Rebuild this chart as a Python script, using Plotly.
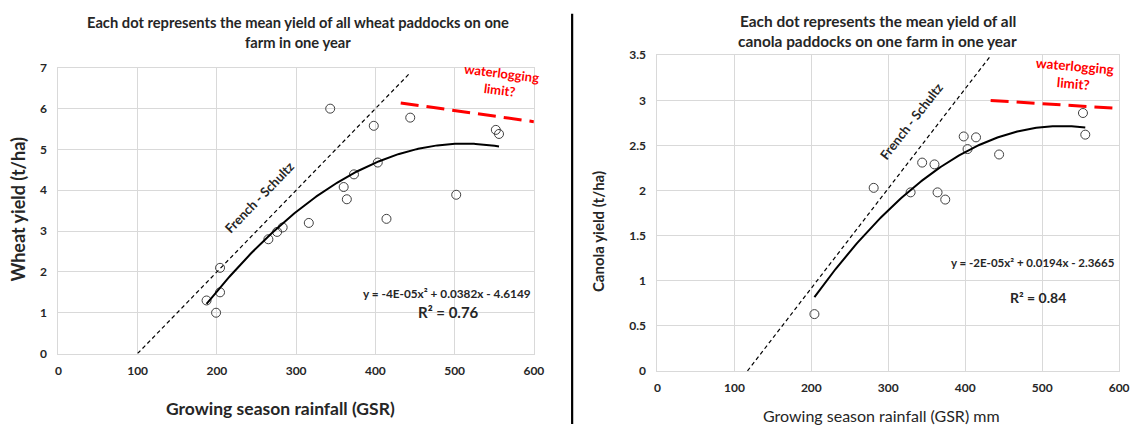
import numpy as np
import plotly.graph_objects as go

W, H = 1141, 431

# ---------------- data ----------------
wheat_gsr = [187, 199, 204, 204, 265, 276, 283, 316, 343, 360, 364, 373, 398, 403, 414, 444, 502, 552, 556]
wheat_yield = [1.30, 1.00, 2.10, 1.50, 2.80, 2.98, 3.09, 3.20, 6.00, 4.08, 3.78, 4.39, 5.58, 4.68, 3.30, 5.78, 3.89, 5.48, 5.38]

canola_gsr = [204, 281, 329, 344, 360, 364, 374, 398, 403, 414, 444, 553, 556]
canola_yield = [0.63, 2.03, 1.98, 2.31, 2.29, 1.98, 1.90, 2.60, 2.46, 2.59, 2.40, 2.86, 2.62]

# French-Schultz potential lines (evaporation offset, water-use efficiency t/ha/mm, end GSR)
wheat_fs = dict(x0=100, wue=0.020, x1=443)
canola_fs = dict(x0=117, wue=0.01106, x1=433.5)

# waterlogging limit lines (GSR, yield)
wheat_wl_x, wheat_wl_y = [432, 600], [6.14, 5.68]
canola_wl_x, canola_wl_y = [433, 600], [3.00, 2.91]

x_ticks = [0, 100, 200, 300, 400, 500, 600]
wheat_y_ticks = [0, 1, 2, 3, 4, 5, 6, 7]
canola_y_ticks = [0, 0.5, 1, 1.5, 2, 2.5, 3, 3.5]

wheat_eq = "y = -4E-05x² + 0.0382x - 4.6149"
wheat_r2 = "R² = 0.76"
canola_eq = "y = -2E-05x² + 0.0194x - 2.3665"
canola_r2 = "R² = 0.84"

FONT = "Lato"
GRID = "#d9d9d9"

def px_x(p):
    return p / W

def px_y(p):
    return 1 - p / H

fig = go.Figure()

def add_panel(xa, ya, gsr, yld, fs, wl_x, wl_y):
    # scatter
    fig.add_trace(go.Scatter(x=gsr, y=yld, mode="markers", xaxis=xa, yaxis=ya,
                             marker=dict(symbol="circle-open", size=9, color="#404040",
                                         line=dict(width=1, color="#404040")),
                             showlegend=False, hoverinfo="skip"))
    # quadratic trendline
    c = np.polyfit(gsr, yld, 2)
    xs = np.linspace(min(gsr), max(gsr), 200)
    fig.add_trace(go.Scatter(x=xs, y=np.polyval(c, xs), mode="lines", xaxis=xa, yaxis=ya,
                             line=dict(color="black", width=2), showlegend=False, hoverinfo="skip"))
    # French-Schultz
    fx = [fs["x0"], fs["x1"]]
    fy = [0, fs["wue"] * (fs["x1"] - fs["x0"])]
    fig.add_trace(go.Scatter(x=fx, y=fy, mode="lines", xaxis=xa, yaxis=ya,
                             line=dict(color="black", width=1.2, dash="4px,3px"),
                             showlegend=False, hoverinfo="skip"))
    # waterlogging limit
    fig.add_trace(go.Scatter(x=wl_x, y=wl_y, mode="lines", xaxis=xa, yaxis=ya,
                             line=dict(color="#ff0000", width=3, dash="18px,8px"),
                             showlegend=False, hoverinfo="skip", cliponaxis=False))

add_panel("x", "y", wheat_gsr, wheat_yield, wheat_fs, wheat_wl_x, wheat_wl_y)
add_panel("x2", "y2", canola_gsr, canola_yield, canola_fs, canola_wl_x, canola_wl_y)

tickfont = dict(family=FONT, size=12, color="#262626", weight="bold")
axis_common = dict(showgrid=True, gridcolor=GRID, gridwidth=1, zeroline=False,
                   showline=True, linecolor=GRID, linewidth=1, mirror=True,
                   ticks="", tickfont=tickfont, fixedrange=True)

fig.update_layout(
    width=W, height=H, margin=dict(l=0, r=0, t=0, b=0),
    paper_bgcolor="white", plot_bgcolor="white",
    xaxis=dict(domain=[px_x(56), px_x(537)], range=[0, 600], tickvals=x_ticks,
               anchor="y", ticklabelstandoff=6, **axis_common),
    yaxis=dict(domain=[px_y(358), px_y(62)], range=[0, 7], tickvals=wheat_y_ticks,
               anchor="x", ticklabelstandoff=8, **axis_common),
    xaxis2=dict(domain=[px_x(662), px_x(1129)], range=[0, 600], tickvals=x_ticks,
                anchor="y2", ticklabelstandoff=6, **axis_common),
    yaxis2=dict(domain=[px_y(376), px_y(49)], range=[0, 3.5], tickvals=canola_y_ticks,
                anchor="x2", ticklabelstandoff=8, **axis_common),
)

ann = []
def t(text, x, y, size, bold=True, color="#262626", angle=0, xref="paper", yref="paper"):
    if xref == "paper":
        x = px_x(x); y = px_y(y)
    ann.append(dict(text=text, x=x, y=y, xref=xref, yref=yref, showarrow=False,
                    xanchor="center", yanchor="middle", textangle=angle,
                    font=dict(family=FONT, size=size, color=color,
                              weight="bold" if bold else "normal")))

# titles
t("Each dot represents the mean yield of all wheat paddocks on one", 298, 14, 14.7)
t("farm in one year", 298, 35, 14.7)
t("Each dot represents the mean yield of all", 885, 13, 15.4)
t("canola paddocks on one farm in one year", 885, 34, 15.4)

# axis titles
t("Wheat yield (t/ha)", 15, 208, 18, angle=-90)
t("Growing season rainfall (GSR)", 281, 415, 17.5)
t("Canola yield (t/ha)", 602, 232, 15, angle=-90)
t("Growing season rainfall (GSR) mm", 889, 422, 16, bold=False)

# in-plot labels (data coords)
t("French - Schultz", 254, 3.83, 13, angle=-46, xref="x", yref="y")
t("waterlogging<br>limit?", 558, 6.66, 13, color="#ff0000", angle=7, xref="x", yref="y")
t(wheat_eq, 491, 1.47, 11.8, xref="x", yref="y")
t(wheat_r2, 492, 1.02, 15, xref="x", yref="y")

t("French - Schultz", 330, 2.77, 13, angle=-52, xref="x2", yref="y2")
t("waterlogging<br>limit?", 541, 3.28, 13.5, color="#ff0000", angle=5, xref="x2", yref="y2")
t(canola_eq, 488, 1.20, 11.5, xref="x2", yref="y2")
t(canola_r2, 494, 0.81, 14, xref="x2", yref="y2")

fig.update_layout(annotations=ann)

# divider
fig.add_shape(type="line", xref="paper", yref="paper", x0=px_x(575.7), x1=px_x(575.7),
              y0=0, y1=px_y(6), line=dict(color="black", width=2.2))

fig.write_html("out.html")
